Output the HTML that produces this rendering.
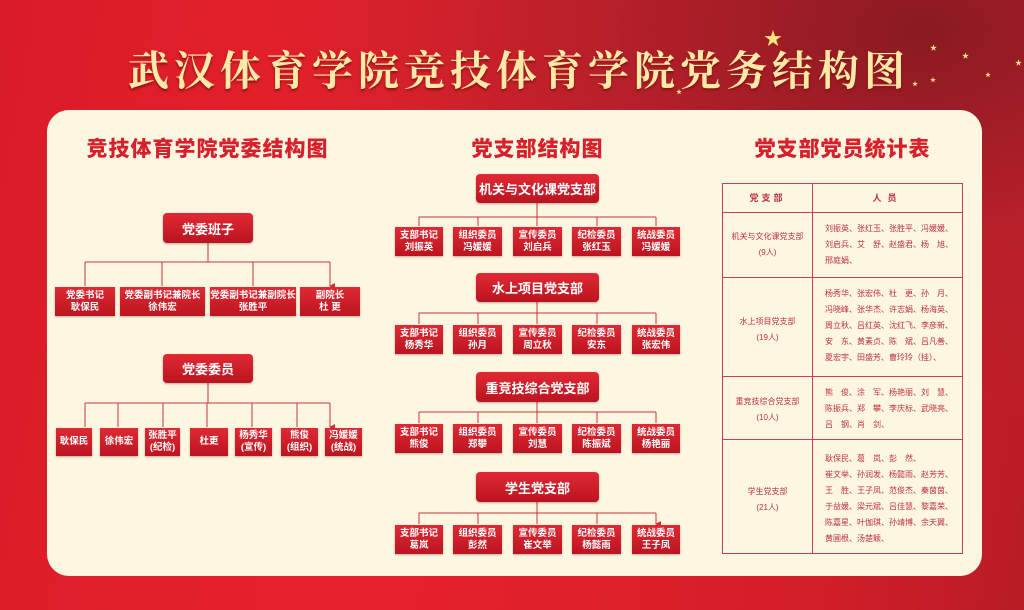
<!DOCTYPE html>
<html><head><meta charset="utf-8">
<style>
*{margin:0;padding:0;box-sizing:border-box}
body{width:1024px;height:610px;overflow:hidden;position:relative;font-family:"Liberation Sans","Noto Sans CJK SC",sans-serif;
background:radial-gradient(ellipse at 90% 5%,#8a1a22 0%,#b8202a 25%,transparent 50%),linear-gradient(100deg,#d81c28 0%,#e8222c 40%,#d41e28 80%,#b81c26 100%);}
.title{position:absolute;left:0;top:40px;width:1024px;padding-left:14px;text-align:center;white-space:nowrap;font-family:"Noto Serif CJK SC","Liberation Serif",serif;font-weight:bold;font-size:41px;letter-spacing:5px;color:#fbe9a8;text-shadow:0 2px 2px #8a1010;line-height:56px}
.star{position:absolute;color:#ffe680;line-height:1}
.panel{position:absolute;left:47px;top:110px;width:935px;height:466px;background:#fdf7e1;border-radius:22px}
.h2{position:absolute;top:136px;font-weight:900;font-size:21px;color:#d8202c;text-align:center;line-height:28px;letter-spacing:1px}
.b{position:absolute;background:linear-gradient(#e02a34,#bb1420);color:#fff;text-align:center;font-weight:bold;display:flex;align-items:center;justify-content:center;flex-direction:column;box-shadow:0 1px 2px rgba(0,0,0,.3)}
.hd{border-radius:4px;font-size:13px}
.s{font-size:9.5px;line-height:12px}
.t{position:absolute;left:722px;top:183px;width:241px;height:371px;border:1px solid #c84050}
.t div{position:absolute;color:#c0303e;font-size:8px;line-height:16px;white-space:nowrap}
.hl{left:0;width:239px;height:0;border-top:1px solid #c84050}
</style></head><body>
<div class="title">武汉体育学院竞技体育学院党务结构图</div>
<div class="star" style="left:764px;top:30px;font-size:18px">★</div>
<div class="star" style="left:930px;top:45px;font-size:7px">★</div>
<div class="star" style="left:962px;top:53px;font-size:7px">★</div>
<div class="star" style="left:1015px;top:60px;font-size:7px">★</div>
<div class="star" style="left:985px;top:73px;font-size:6px">★</div>
<div class="star" style="left:930px;top:78px;font-size:6px">★</div>
<div class="star" style="left:676px;top:90px;font-size:6px">★</div>
<div class="star" style="left:912px;top:82px;font-size:6px">★</div>
<div class="panel"></div>
<div class="h2" style="left:60px;width:295px">竞技体育学院党委结构图</div>
<div class="h2" style="left:440px;width:195px">党支部结构图</div>
<div class="h2" style="left:740px;width:205px">党支部党员统计表</div>

<svg style="position:absolute;left:0;top:0" width="1024" height="610">
<defs><marker id="a" markerWidth="6" markerHeight="6" refX="3" refY="5" orient="auto" markerUnits="userSpaceOnUse"><path d="M0,0 L6,0 L3,6z" fill="#d0303a"/></marker></defs>
<g stroke="#d0303a" stroke-width="1" fill="none">
<path d="M208 243V262M85 262H330"/>
<path d="M85 262V286M162 262V286M253 262V286M330 262V286" marker-end="url(#a)"/>
<path d="M208 383V403M85 403H330"/>
<path d="M85 403V427M118 403V427M163 403V427M207 403V427M252 403V427M297 403V427M330 403V427" marker-end="url(#a)"/>
<path d="M537 203V217M419 217H656M537 302V313M419 313H656M537 402V412M419 412H656M537 502V513M419 513H656"/>
<path d="M419 217V226M478 217V226M537 217V226M597 217V226M656 217V226M419 313V324M478 313V324M537 313V324M597 313V324M656 313V324M419 412V423M478 412V423M537 412V423M597 412V423M656 412V423M419 513V524M478 513V524M537 513V524M597 513V524M656 513V524" marker-end="url(#a)"/>
</g></svg>

<div class="b hd" style="left:163px;top:213px;width:90px;height:30px">党委班子</div>
<div class="b s" style="left:55px;top:287px;width:60px;height:29px">党委书记<br>耿保民</div>
<div class="b s" style="left:120px;top:287px;width:85px;height:29px">党委副书记兼院长<br>徐伟宏</div>
<div class="b s" style="left:210px;top:287px;width:86px;height:29px">党委副书记兼副院长<br>张胜平</div>
<div class="b s" style="left:300px;top:287px;width:60px;height:29px">副院长<br>杜 更</div>
<div class="b hd" style="left:163px;top:354px;width:90px;height:29px">党委委员</div>
<div class="b s" style="left:56px;top:428px;width:36px;height:28px">耿保民</div>
<div class="b s" style="left:100px;top:428px;width:38px;height:28px">徐伟宏</div>
<div class="b s" style="left:145px;top:428px;width:35px;height:28px">张胜平<br>(纪检)</div>
<div class="b s" style="left:190px;top:428px;width:38px;height:28px">杜更</div>
<div class="b s" style="left:235px;top:428px;width:37px;height:28px">杨秀华<br>(宣传)</div>
<div class="b s" style="left:281px;top:428px;width:37px;height:28px">熊俊<br>(组织)</div>
<div class="b s" style="left:325px;top:428px;width:37px;height:28px">冯媛媛<br>(统战)</div>

<div class="b hd" style="left:476px;top:174px;width:123px;height:29px">机关与文化课党支部</div>
<div class="b s" style="left:395px;top:227px;width:48px;height:29px">支部书记<br>刘振英</div>
<div class="b s" style="left:453px;top:227px;width:49px;height:29px">组织委员<br>冯媛媛</div>
<div class="b s" style="left:513px;top:227px;width:49px;height:29px">宣传委员<br>刘启兵</div>
<div class="b s" style="left:572px;top:227px;width:49px;height:29px">纪检委员<br>张红玉</div>
<div class="b s" style="left:632px;top:227px;width:48px;height:29px">统战委员<br>冯媛媛</div>

<div class="b hd" style="left:476px;top:273px;width:123px;height:29px">水上项目党支部</div>
<div class="b s" style="left:395px;top:325px;width:48px;height:29px">支部书记<br>杨秀华</div>
<div class="b s" style="left:453px;top:325px;width:49px;height:29px">组织委员<br>孙月</div>
<div class="b s" style="left:513px;top:325px;width:49px;height:29px">宣传委员<br>周立秋</div>
<div class="b s" style="left:572px;top:325px;width:49px;height:29px">纪检委员<br>安东</div>
<div class="b s" style="left:632px;top:325px;width:48px;height:29px">统战委员<br>张宏伟</div>

<div class="b hd" style="left:476px;top:372px;width:123px;height:30px">重竞技综合党支部</div>
<div class="b s" style="left:395px;top:424px;width:48px;height:29px">支部书记<br>熊俊</div>
<div class="b s" style="left:453px;top:424px;width:49px;height:29px">组织委员<br>郑攀</div>
<div class="b s" style="left:513px;top:424px;width:49px;height:29px">宣传委员<br>刘慧</div>
<div class="b s" style="left:572px;top:424px;width:49px;height:29px">纪检委员<br>陈振斌</div>
<div class="b s" style="left:632px;top:424px;width:48px;height:29px">统战委员<br>杨艳丽</div>

<div class="b hd" style="left:476px;top:472px;width:123px;height:30px">学生党支部</div>
<div class="b s" style="left:395px;top:525px;width:48px;height:29px">支部书记<br>葛岚</div>
<div class="b s" style="left:453px;top:525px;width:49px;height:29px">组织委员<br>彭然</div>
<div class="b s" style="left:513px;top:525px;width:49px;height:29px">宣传委员<br>崔文举</div>
<div class="b s" style="left:572px;top:525px;width:49px;height:29px">纪检委员<br>杨懿雨</div>
<div class="b s" style="left:632px;top:525px;width:48px;height:29px">统战委员<br>王子凤</div>

<div class="t">
<div style="left:89px;top:0;width:0;height:369px;border-left:1px solid #c84050"></div>
<div class="hl" style="top:28px"></div>
<div class="hl" style="top:93px"></div>
<div class="hl" style="top:192px"></div>
<div class="hl" style="top:255px"></div>
<div style="left:0;width:89px;top:6px;text-align:center;font-weight:bold;font-size:9px;letter-spacing:3px">党支部</div>
<div style="left:90px;width:149px;top:6px;text-align:center;font-weight:bold;font-size:9px;letter-spacing:6px">人员</div>
<div style="left:0;width:89px;top:45px;text-align:center">机关与文化课党支部<br>(9人)</div>
<div style="left:102px;top:37px">刘振英、张红玉、张胜平、冯媛媛、<br>刘启兵、艾　舒、赵盛君、杨　旭、<br>邢庭娟、</div>
<div style="left:0;width:89px;top:130px;text-align:center">水上项目党支部<br>(19人)</div>
<div style="left:102px;top:102px">杨秀华、张宏伟、杜　更、孙　月、<br>冯晓峰、张华杰、许志娟、杨海英、<br>周立秋、吕红英、沈红飞、李彦新、<br>安　东、黄素贞、陈　斌、吕凡善、<br>夏宏宇、田盛芳、曹玲玲（挂）、</div>
<div style="left:0;width:89px;top:210px;text-align:center">重竞技综合党支部<br>(10人)</div>
<div style="left:102px;top:201px">熊　俊、涂　军、杨艳丽、刘　慧、<br>陈振兵、郑　攀、李庆标、武晓亮、<br>吕　钢、肖　剑、</div>
<div style="left:0;width:89px;top:300px;text-align:center">学生党支部<br>(21人)</div>
<div style="left:102px;top:267px">耿保民、葛　岚、彭　然、<br>崔文举、孙润发、杨懿雨、赵芳芳、<br>王　胜、王子凤、范俊杰、秦茵茵、<br>于益媛、梁元斌、吕佳慧、黎嘉荣、<br>陈嘉星、叶伽琪、孙靖博、余天翼、<br>黄圃根、汤楚颖、</div>
</div>
</body></html>
